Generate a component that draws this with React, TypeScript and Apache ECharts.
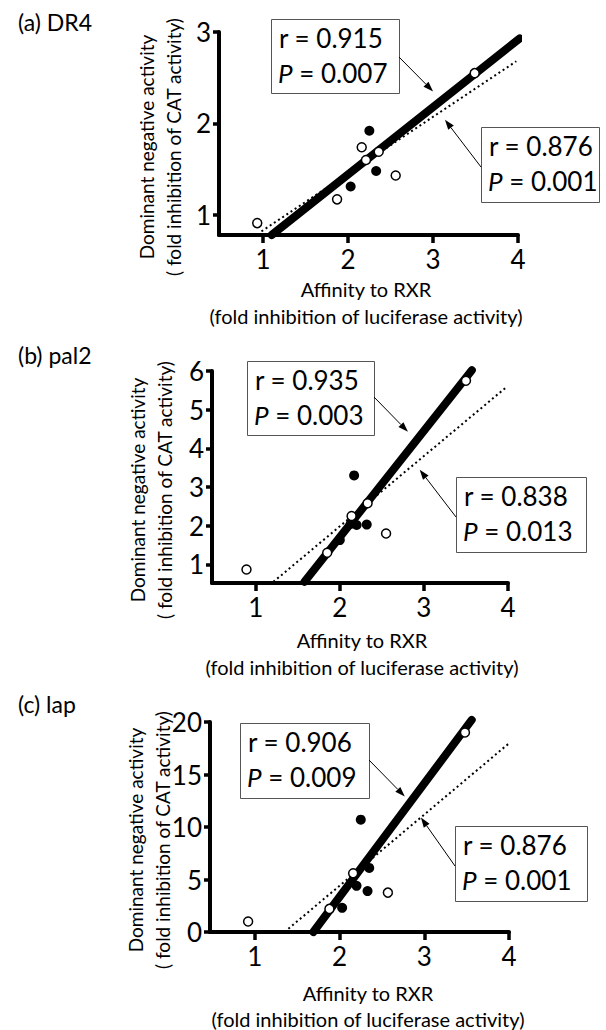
import React, { useEffect, useRef } from "react";
import * as echarts from "echarts";

const FONT = "Lato, 'Open Sans', sans-serif";

// ---------- data ----------
const xTickValues = [1, 2, 3, 4];

// (a) DR4
const drYTicks = [1, 2, 3];
const drOpenX = [0.93, 1.87, 2.16, 2.21, 2.36, 2.56, 3.49];
const drOpenY = [0.91, 1.17, 1.74, 1.6, 1.69, 1.43, 2.55];
const drFilledX = [2.03, 2.25, 2.33];
const drFilledY = [1.31, 1.92, 1.48];
const drSolidX = [1.1, 4.02];
const drSolidY = [0.78, 2.93];
const drDottedX = [0.98, 3.98];
const drDottedY = [0.82, 2.68];
const drSolidStats = ["0.915", "0.007"];
const drDottedStats = ["0.876", "0.001"];

// (b) pal2
const palYTicks = [1, 2, 3, 4, 5, 6];
const palOpenX = [0.89, 1.85, 2.14, 2.33, 2.55, 3.5];
const palOpenY = [0.87, 1.3, 2.25, 2.58, 1.8, 5.75];
const palFilledX = [2.0, 2.13, 2.2, 2.32, 2.17];
const palFilledY = [1.63, 2.05, 2.02, 2.03, 3.3];
const palSolidX = [1.58, 3.57];
const palSolidY = [0.55, 6.02];
const palDottedX = [1.21, 3.99];
const palDottedY = [0.55, 5.6];
const palSolidStats = ["0.935", "0.003"];
const palDottedStats = ["0.838", "0.013"];

// (c) lap
const lapYTicks = [0, 5, 10, 15, 20];
const lapOpenX = [0.92, 1.88, 2.16, 2.57, 3.48];
const lapOpenY = [1.0, 2.2, 5.6, 3.75, 19.0];
const lapFilledX = [2.03, 2.2, 2.33, 2.35, 2.25];
const lapFilledY = [2.3, 4.4, 3.9, 6.1, 10.7];
const lapSolidX = [1.69, 3.56];
const lapSolidY = [0, 20.2];
const lapDottedX = [1.35, 3.99];
const lapDottedY = [0, 17.9];
const lapSolidStats = ["0.906", "0.009"];
const lapDottedStats = ["0.876", "0.001"];

const xTitle1 = "Affinity to RXR";
const xTitle2 = "(fold inhibition of luciferase activity)";
const yTitle1 = "Dominant negative activity";
const yTitle2 = "( fold inhibition of CAT activity)";

const panels = [
  {
    title: "(a) DR4",
    yTicks: drYTicks,
    openX: drOpenX, openY: drOpenY,
    filledX: drFilledX, filledY: drFilledY,
    solidX: drSolidX, solidY: drSolidY,
    dottedX: drDottedX, dottedY: drDottedY,
    solidStats: drSolidStats, dottedStats: drDottedStats,
  },
  {
    title: "(b) pal2",
    yTicks: palYTicks,
    openX: palOpenX, openY: palOpenY,
    filledX: palFilledX, filledY: palFilledY,
    solidX: palSolidX, solidY: palSolidY,
    dottedX: palDottedX, dottedY: palDottedY,
    solidStats: palSolidStats, dottedStats: palDottedStats,
  },
  {
    title: "(c) lap",
    yTicks: lapYTicks,
    openX: lapOpenX, openY: lapOpenY,
    filledX: lapFilledX, filledY: lapFilledY,
    solidX: lapSolidX, solidY: lapSolidY,
    dottedX: lapDottedX, dottedY: lapDottedY,
    solidStats: lapSolidStats, dottedStats: lapDottedStats,
  },
];

// ---------- layout ----------
const layout = [
  {
    grid: { left: 219, top: 32, width: 299, height: 203 },
    xMin: 0.48, xMax: 4, yMin: 0.78, yMax: 3,
    titlePos: [18, 22],
    yTitle: { x1: 146, x2: 173, y: 147 },
    xTitle: { x: 366, y1: 289, y2: 316 },
    box1: { x: 271, y: 19, w: 128, h: 74, from: [399, 57], to: [3.0, 2.35] },
    box2: { x: 481, y: 127, w: 118, h: 75, from: [481, 167], to: [3.14, 2.04] },
  },
  {
    grid: { left: 212, top: 371, width: 296, height: 212 },
    xMin: 0.48, xMax: 4, yMin: 0.52, yMax: 6,
    titlePos: [18, 355],
    yTitle: { x1: 137, x2: 164, y: 490 },
    xTitle: { x: 362, y1: 640, y2: 667 },
    box1: { x: 247, y: 361, w: 127, h: 74, from: [374, 397], to: [2.81, 4.43] },
    box2: { x: 456, y: 477, w: 130, h: 75, from: [456, 517], to: [2.95, 3.45] },
  },
  {
    grid: { left: 210, top: 722, width: 299, height: 210 },
    xMin: 0.47, xMax: 4, yMin: 0, yMax: 20,
    titlePos: [18, 704],
    yTitle: { x1: 135, x2: 162, y: 840 },
    xTitle: { x: 368, y1: 993, y2: 1019 },
    box1: { x: 240, y: 723, w: 129, h: 75, from: [369, 760], to: [2.77, 12.9] },
    box2: { x: 455, y: 826, w: 132, h: 75, from: [455, 866], to: [2.96, 10.9] },
  },
];

function pairs(xs: number[], ys: number[]) {
  return xs.map((x, k) => [x, ys[k]]);
}

function textEl(text: string, x: number, y: number, size: number, extra: any = {}) {
  return {
    type: "text",
    x,
    y,
    silent: true,
    ...extra,
    style: {
      text,
      fontSize: size,
      fontFamily: FONT,
      fill: "#000",
      ...(extra.style || {}),
    },
  };
}

export default function App() {
  const ref = useRef<HTMLDivElement>(null);

  useEffect(() => {
    if (!ref.current) return;
    const chart = echarts.init(ref.current, undefined, { renderer: "svg" });

    const grids: any[] = [];
    const xAxes: any[] = [];
    const yAxes: any[] = [];
    const series: any[] = [];

    panels.forEach((p, i) => {
      const L = layout[i];
      grids.push({ ...L.grid, containLabel: false });
      xAxes.push({
        type: "value",
        gridIndex: i,
        min: L.xMin,
        max: L.xMax,
        axisLine: { show: true, onZero: false, lineStyle: { color: "#000", width: 4 } },
        axisTick: { show: true, customValues: xTickValues, length: 8, lineStyle: { color: "#000", width: 3.5 } },
        axisLabel: { customValues: xTickValues, fontSize: 26, fontFamily: FONT, color: "#000", margin: 11 },
        splitLine: { show: false },
      });
      yAxes.push({
        type: "value",
        gridIndex: i,
        min: L.yMin,
        max: L.yMax,
        axisLine: { show: true, onZero: false, lineStyle: { color: "#000", width: 4 } },
        axisTick: { show: true, customValues: p.yTicks, length: 6, lineStyle: { color: "#000", width: 3.5 } },
        axisLabel: { customValues: p.yTicks, fontSize: 26, fontFamily: FONT, color: "#000", margin: 8 },
        splitLine: { show: false },
      });
      series.push({
        type: "line",
        xAxisIndex: i,
        yAxisIndex: i,
        data: pairs(p.dottedX, p.dottedY),
        symbol: "none",
        clip: false,
        silent: true,
        z: 2,
        lineStyle: { color: "#000", width: 2, type: [2, 3], opacity: 1 },
      });
      series.push({
        type: "line",
        xAxisIndex: i,
        yAxisIndex: i,
        data: pairs(p.solidX, p.solidY),
        symbol: "none",
        clip: false,
        silent: true,
        z: 3,
        lineStyle: { color: "#000", width: 8, cap: "round", opacity: 1 },
      });
      series.push({
        type: "scatter",
        xAxisIndex: i,
        yAxisIndex: i,
        data: pairs(p.filledX, p.filledY),
        symbol: "circle",
        symbolSize: 10,
        z: 4,
        itemStyle: { color: "#000", opacity: 1 },
      });
      series.push({
        type: "scatter",
        xAxisIndex: i,
        yAxisIndex: i,
        data: pairs(p.openX, p.openY),
        symbol: "circle",
        symbolSize: 9,
        z: 5,
        itemStyle: { color: "#fff", borderColor: "#000", borderWidth: 1.5, opacity: 1 },
      });
    });

    chart.setOption({
      animation: false,
      backgroundColor: "#fff",
      textStyle: { fontFamily: FONT },
      grid: grids,
      xAxis: xAxes,
      yAxis: yAxes,
      series,
    });

    const elements: any[] = [];
    panels.forEach((p, i) => {
      const L = layout[i];
      elements.push(
        textEl(p.title, L.titlePos[0], L.titlePos[1], 23, { style: { verticalAlign: "middle", align: "left" } })
      );
      elements.push(
        textEl(yTitle1, L.yTitle.x1, L.yTitle.y, 19, {
          rotation: Math.PI / 2,
          style: { align: "center", verticalAlign: "middle" },
        })
      );
      elements.push(
        textEl(yTitle2, L.yTitle.x2, L.yTitle.y, 19, {
          rotation: Math.PI / 2,
          style: { align: "center", verticalAlign: "middle" },
        })
      );
      elements.push(textEl(xTitle1, L.xTitle.x, L.xTitle.y1, 20, { style: { align: "center", verticalAlign: "middle" } }));
      elements.push(textEl(xTitle2, L.xTitle.x, L.xTitle.y2, 20, { style: { align: "center", verticalAlign: "middle" } }));

      const boxes = [
        { b: L.box1, stats: p.solidStats },
        { b: L.box2, stats: p.dottedStats },
      ];
      boxes.forEach(({ b, stats }) => {
        elements.push({
          type: "rect",
          silent: true,
          shape: { x: b.x + 0.5, y: b.y + 0.5, width: b.w, height: b.h },
          style: { fill: "#fff", stroke: "#555", lineWidth: 1 },
          z: 10,
        });
        elements.push({
          ...textEl("r = " + stats[0], b.x + 8, b.y + 19, 26, { style: { verticalAlign: "middle", align: "left" } }),
          z: 11,
        });
        elements.push({
          ...textEl("{i|P} = " + stats[1], b.x + 7, b.y + 54, 26, {
            style: {
              verticalAlign: "middle",
              align: "left",
              rich: { i: { fontStyle: "italic", fontSize: 26, fontFamily: FONT, fill: "#000" } },
            },
          }),
          z: 11,
        });
        const tip = chart.convertToPixel({ gridIndex: i }, b.to) as number[];
        const fx = b.from[0];
        const fy = b.from[1];
        const dx = tip[0] - fx;
        const dy = tip[1] - fy;
        const len = Math.sqrt(dx * dx + dy * dy) || 1;
        const ux = dx / len;
        const uy = dy / len;
        const headL = 10;
        const headW = 3.5;
        const bx = tip[0] - ux * headL;
        const by = tip[1] - uy * headL;
        elements.push({
          type: "line",
          silent: true,
          shape: { x1: fx, y1: fy, x2: bx, y2: by },
          style: { stroke: "#000", lineWidth: 1 },
          z: 12,
        });
        elements.push({
          type: "polygon",
          silent: true,
          shape: {
            points: [
              [tip[0], tip[1]],
              [bx - uy * headW, by + ux * headW],
              [bx + uy * headW, by - ux * headW],
            ],
          },
          style: { fill: "#000" },
          z: 12,
        });
      });
    });

    chart.setOption({ graphic: { elements } });

    return () => chart.dispose();
  }, []);

  return (
    <div
      ref={ref}
      style={{ position: "absolute", left: 0, top: 0, width: 606, height: 1030, background: "#fff" }}
    />
  );
}
